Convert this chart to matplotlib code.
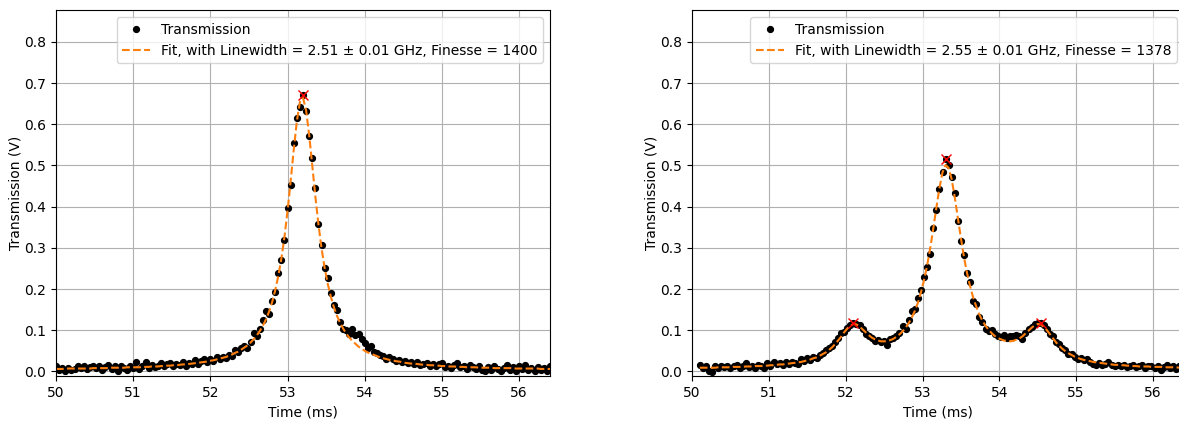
# Cavity transmission scans with Lorentzian fits
import numpy as np
import matplotlib.pyplot as plt

# Scan 1: sampled every 0.04 ms starting at 50.00 ms
t1_start = 50.00
t1_step = 0.04
trans1 = [0.012, 0.004, 0.009, 0.002, 0.008, 0.004, 0.006, 0.014, 0.009, 0.013,
          0.005, 0.010, 0.014, 0.008, 0.012, 0.003, 0.010, 0.015, 0.006, 0.013,
          0.002, 0.012, 0.009, 0.004, 0.013, 0.008, 0.024, 0.007, 0.012, 0.022,
          0.009, 0.015, 0.010, 0.014, 0.020, 0.012, 0.017, 0.021, 0.014, 0.019,
          0.016, 0.022, 0.013, 0.021, 0.018, 0.027, 0.019, 0.025, 0.029, 0.022,
          0.031, 0.026, 0.034, 0.029, 0.036, 0.033, 0.040, 0.037, 0.052, 0.047,
          0.056, 0.062, 0.058, 0.072, 0.093, 0.085, 0.103, 0.124, 0.147, 0.140,
          0.172, 0.193, 0.238, 0.270, 0.319, 0.396, 0.452, 0.554, 0.615, 0.641,
          0.672, 0.633, 0.571, 0.518, 0.445, 0.358, 0.306, 0.251, 0.226, 0.190,
          0.162, 0.149, 0.121, 0.104, 0.101, 0.092, 0.103, 0.088, 0.091, 0.079,
          0.068, 0.057, 0.061, 0.048, 0.045, 0.040, 0.038, 0.031, 0.034, 0.029,
          0.025, 0.028, 0.022, 0.026, 0.020, 0.023, 0.017, 0.022, 0.015, 0.019,
          0.021, 0.013, 0.018, 0.012, 0.017, 0.021, 0.011, 0.014, 0.009, 0.016,
          0.021, 0.010, 0.013, 0.007, 0.015, 0.010, 0.006, 0.012, 0.004, 0.000,
          0.011, 0.003, 0.014, 0.006, 0.001, 0.009, 0.015, 0.004, 0.010, 0.002,
          0.012, 0.005, 0.015, 0.003, 0.008, 0.000, 0.011, 0.004, 0.009, 0.002,
          0.014]
fit1 = [0.006, 0.006, 0.006, 0.007, 0.007, 0.007, 0.007, 0.007, 0.007, 0.007,
        0.007, 0.007, 0.008, 0.008, 0.008, 0.008, 0.008, 0.008, 0.009, 0.009,
        0.009, 0.009, 0.009, 0.010, 0.010, 0.010, 0.010, 0.010, 0.011, 0.011,
        0.011, 0.012, 0.012, 0.012, 0.013, 0.013, 0.014, 0.014, 0.015, 0.015,
        0.016, 0.017, 0.017, 0.018, 0.019, 0.020, 0.021, 0.022, 0.023, 0.024,
        0.026, 0.027, 0.029, 0.031, 0.033, 0.035, 0.038, 0.041, 0.045, 0.048,
        0.053, 0.058, 0.063, 0.070, 0.078, 0.087, 0.098, 0.111, 0.126, 0.145,
        0.168, 0.197, 0.232, 0.274, 0.327, 0.390, 0.462, 0.538, 0.607, 0.654,
        0.664, 0.634, 0.574, 0.500, 0.425, 0.357, 0.299, 0.252, 0.213, 0.182,
        0.156, 0.135, 0.118, 0.104, 0.092, 0.082, 0.074, 0.067, 0.060, 0.055,
        0.050, 0.046, 0.043, 0.040, 0.037, 0.034, 0.032, 0.030, 0.028, 0.027,
        0.025, 0.024, 0.023, 0.021, 0.020, 0.019, 0.019, 0.018, 0.017, 0.016,
        0.016, 0.015, 0.015, 0.014, 0.014, 0.013, 0.013, 0.012, 0.012, 0.012,
        0.011, 0.011, 0.011, 0.010, 0.010, 0.010, 0.010, 0.009, 0.009, 0.009,
        0.009, 0.009, 0.008, 0.008, 0.008, 0.008, 0.008, 0.008, 0.008, 0.007,
        0.007, 0.007, 0.007, 0.007, 0.007, 0.007, 0.007, 0.006, 0.006, 0.006,
        0.006]
peak_windows1 = [(52.8, 53.6)]
label_fit1 = 'Fit, with Linewidth = 2.51 ± 0.01 GHz, Finesse = 1400'

# Scan 2: sampled every 0.04 ms starting at 50.10 ms
t2_start = 50.10
t2_step = 0.04
trans2 = [0.015, 0.008, 0.012, 0.002, -0.001, 0.013, 0.008, 0.014, 0.010, 0.013,
          0.008, 0.012, 0.015, 0.009, 0.013, 0.021, 0.011, 0.014, 0.009, 0.016,
          0.012, 0.008, 0.021, 0.013, 0.023, 0.017, 0.021, 0.015, 0.024, 0.019,
          0.023, 0.020, 0.017, 0.030, 0.026, 0.032, 0.028, 0.036, 0.033, 0.040,
          0.045, 0.052, 0.056, 0.061, 0.072, 0.080, 0.093, 0.096, 0.106, 0.112,
          0.117, 0.116, 0.112, 0.104, 0.092, 0.086, 0.080, 0.074, 0.077, 0.072,
          0.075, 0.065, 0.078, 0.082, 0.087, 0.093, 0.110, 0.103, 0.125, 0.147,
          0.152, 0.179, 0.197, 0.228, 0.254, 0.286, 0.348, 0.393, 0.442, 0.484,
          0.515, 0.501, 0.472, 0.433, 0.365, 0.316, 0.283, 0.239, 0.218, 0.172,
          0.164, 0.131, 0.119, 0.103, 0.098, 0.100, 0.092, 0.087, 0.084, 0.089,
          0.081, 0.087, 0.087, 0.089, 0.087, 0.079, 0.093, 0.104, 0.108, 0.115,
          0.117, 0.118, 0.112, 0.104, 0.091, 0.085, 0.071, 0.066, 0.056, 0.052,
          0.042, 0.043, 0.036, 0.031, 0.033, 0.027, 0.029, 0.024, 0.019, 0.016,
          0.020, 0.015, 0.018, 0.022, 0.016, 0.013, 0.016, 0.012, 0.015, 0.011,
          0.013, 0.016, 0.010, 0.012, 0.015, 0.009, 0.012, 0.014, 0.008, 0.013,
          0.004, 0.011, 0.015, 0.009, 0.013, 0.006, 0.012, 0.008]
fit2 = [0.009, 0.009, 0.009, 0.009, 0.009, 0.009, 0.010, 0.010, 0.010, 0.010,
        0.010, 0.011, 0.011, 0.011, 0.011, 0.012, 0.012, 0.012, 0.013, 0.013,
        0.013, 0.014, 0.014, 0.015, 0.015, 0.016, 0.017, 0.017, 0.018, 0.019,
        0.020, 0.021, 0.022, 0.023, 0.025, 0.027, 0.029, 0.032, 0.034, 0.038,
        0.042, 0.046, 0.052, 0.058, 0.066, 0.075, 0.084, 0.095, 0.104, 0.111,
        0.115, 0.114, 0.109, 0.102, 0.095, 0.088, 0.082, 0.078, 0.075, 0.073,
        0.073, 0.074, 0.076, 0.079, 0.084, 0.090, 0.097, 0.106, 0.117, 0.131,
        0.147, 0.167, 0.192, 0.222, 0.257, 0.299, 0.347, 0.397, 0.445, 0.483,
        0.501, 0.494, 0.466, 0.422, 0.372, 0.323, 0.277, 0.238, 0.206, 0.179,
        0.157, 0.138, 0.123, 0.111, 0.101, 0.093, 0.086, 0.081, 0.078, 0.075,
        0.074, 0.073, 0.074, 0.077, 0.080, 0.085, 0.092, 0.099, 0.106, 0.112,
        0.115, 0.114, 0.108, 0.100, 0.090, 0.080, 0.070, 0.062, 0.055, 0.049,
        0.044, 0.040, 0.036, 0.033, 0.030, 0.028, 0.026, 0.025, 0.023, 0.022,
        0.021, 0.020, 0.019, 0.018, 0.017, 0.016, 0.016, 0.015, 0.015, 0.014,
        0.014, 0.013, 0.013, 0.012, 0.012, 0.012, 0.012, 0.011, 0.011, 0.011,
        0.011, 0.010, 0.010, 0.010, 0.010, 0.010, 0.009, 0.009]
peak_windows2 = [(51.8, 52.4), (53.0, 53.6), (54.2, 54.8)]
label_fit2 = 'Fit, with Linewidth = 2.55 ± 0.01 GHz, Finesse = 1378'

x_ticks = [50, 51, 52, 53, 54, 55, 56]
y_ticks = [0.0, 0.1, 0.2, 0.3, 0.4, 0.5, 0.6, 0.7, 0.8]

fig = plt.figure(figsize=(11.79, 4.21), dpi=100)
ax1 = fig.add_axes([0.0475, 0.107, 0.419, 0.869])
ax2 = fig.add_axes([0.587, 0.107, 0.417, 0.869])

panels = [(ax1, t1_start, t1_step, trans1, fit1, peak_windows1, label_fit1),
          (ax2, t2_start, t2_step, trans2, fit2, peak_windows2, label_fit2)]

for ax, t0, dt, y, yfit, windows, lab in panels:
    t = t0 + dt*np.arange(len(y))
    y = np.array(y)
    ax.plot(t, y, 'ko', markersize=4.2, label='Transmission')
    ax.plot(t, yfit, '--', color='C1', linewidth=1.5, label=lab)
    # peaks: highest sample inside each window
    for a, b in windows:
        sel = np.where((t >= a) & (t <= b))[0]
        i = sel[np.argmax(y[sel])]
        ax.plot(t[i], y[i], 'rx', markersize=7.5)
    ax.set_xlim(50, 56.4)
    ax.set_ylim(-0.011, 0.877)
    ax.set_xticks(x_ticks)
    ax.set_yticks(y_ticks)
    ax.set_xlabel('Time (ms)')
    ax.set_ylabel('Transmission (V)', labelpad=1)
    ax.grid(True)
    ax.legend(loc='upper right')

plt.savefig('out.png', dpi=100)
